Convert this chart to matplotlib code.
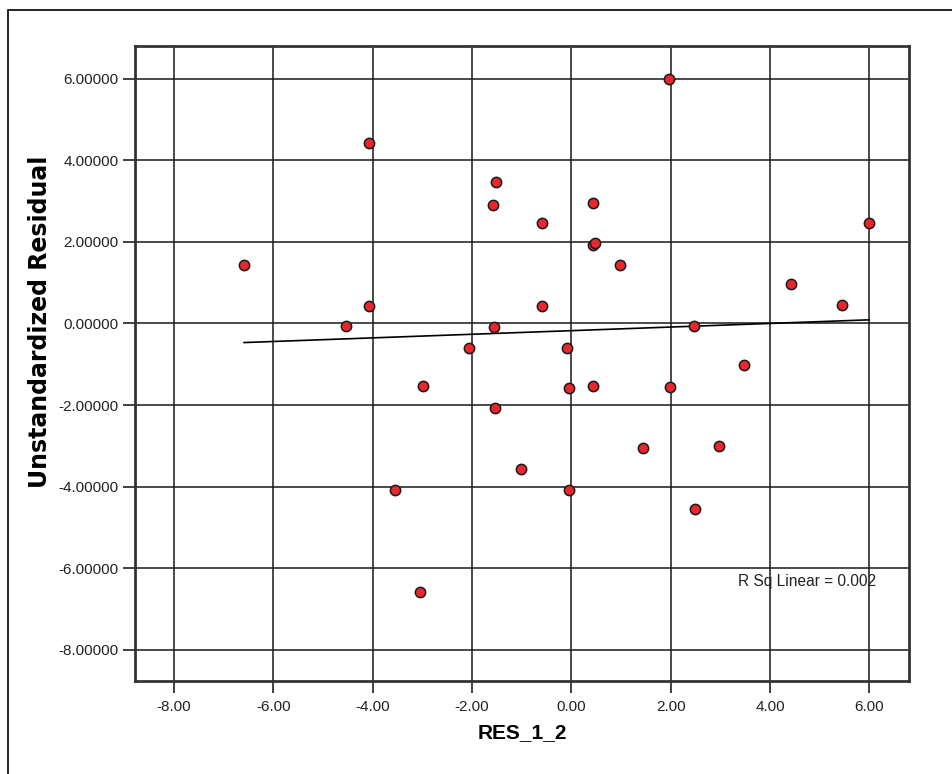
import matplotlib
matplotlib.use("Agg")
import matplotlib.pyplot as plt
import numpy as np
from matplotlib.patches import Rectangle

plt.rcParams['font.family'] = ['Liberation Sans', 'DejaVu Sans']

# Data
res_1_2 = [1.97, -4.08, -1.51, -1.57, 0.44, -0.59, 0.44, 0.47, 0.98, -6.59,
           6.00, 4.43, 5.46, -4.08, -0.59, -4.54, -1.56, 2.47, -2.06, -0.08,
           -2.99, -0.05, 0.44, 1.99, 3.47, -1.53, 1.44, 2.97, -1.02, -3.56,
           -0.05, 2.49, -3.05]
unstd_resid = [5.98, 4.43, 3.46, 2.89, 2.95, 2.46, 1.93, 1.97, 1.42, 1.43,
               2.45, 0.97, 0.45, 0.42, 0.43, -0.06, -0.08, -0.06, -0.60, -0.60,
               -1.54, -1.58, -1.53, -1.56, -1.03, -2.06, -3.06, -3.01, -3.57, -4.08,
               -4.08, -4.55, -6.59]
x_ticks = [-8, -6, -4, -2, 0, 2, 4, 6]
y_ticks = [-8, -6, -4, -2, 0, 2, 4, 6]
r_sq_text = "R Sq Linear = 0.002"

x = np.array(res_1_2)
y = np.array(unstd_resid)

fig = plt.figure(figsize=(9.52, 7.74), dpi=100)
fig.patch.set_facecolor('white')
# outer frame
fig.patches.append(Rectangle((8/952, -0.1), 1.2, (774-10)/774 + 0.1,
                             transform=fig.transFigure, fill=False,
                             edgecolor='black', linewidth=1.2))

ax = fig.add_axes([134.8/952, 1-681/774, (909-134.8)/952, (681-45.5)/774])
ax.set_xlim(-8.79, 6.80)
ax.set_ylim(-8.76, 6.81)

ax.set_xticks(x_ticks)
ax.set_yticks(y_ticks)
ax.set_xticklabels([f"{v:.2f}" for v in x_ticks])
ax.set_yticklabels([f"{v:.5f}" for v in y_ticks])
ax.grid(True, color='#1a1a1a', linewidth=1.3, alpha=0.85)
ax.set_axisbelow(True)

for s in ax.spines.values():
    s.set_linewidth(2.0)
    s.set_color('#333333')

ax.tick_params(direction='out', length=8.5, width=1.3, color='#333333',
               labelsize=11, labelcolor='#222222', pad=3)
ax.tick_params(axis='x', pad=5.5)

# fit line
slope, intercept = np.polyfit(x, y, 1)
xs = np.array([x.min(), x.max()])
ax.plot(xs, intercept + slope * xs, color='black', linewidth=1.2, zorder=3)

ax.scatter(x, y, s=55, facecolor='#e8262b', edgecolor='#1a1a1a',
           linewidth=1.1, zorder=4)

ax.text(3.35, -6.33, r_sq_text, fontsize=11.2, color='#222222',
        va='center', ha='left', zorder=5)

ax.set_xlabel("RES_1_2", fontsize=15, fontweight='bold', labelpad=6)
ax.set_ylabel("Unstandardized Residual", fontsize=17, fontweight='bold',
              family=['DejaVu Sans'])
ax.yaxis.label.set_va('center')
ax.yaxis.label.set_ha('center')
ax.yaxis.set_label_coords((40 - 134.8) / (909 - 134.8), (681 - 322) / (681 - 45.5))

fig.savefig("out.png", dpi=100)
